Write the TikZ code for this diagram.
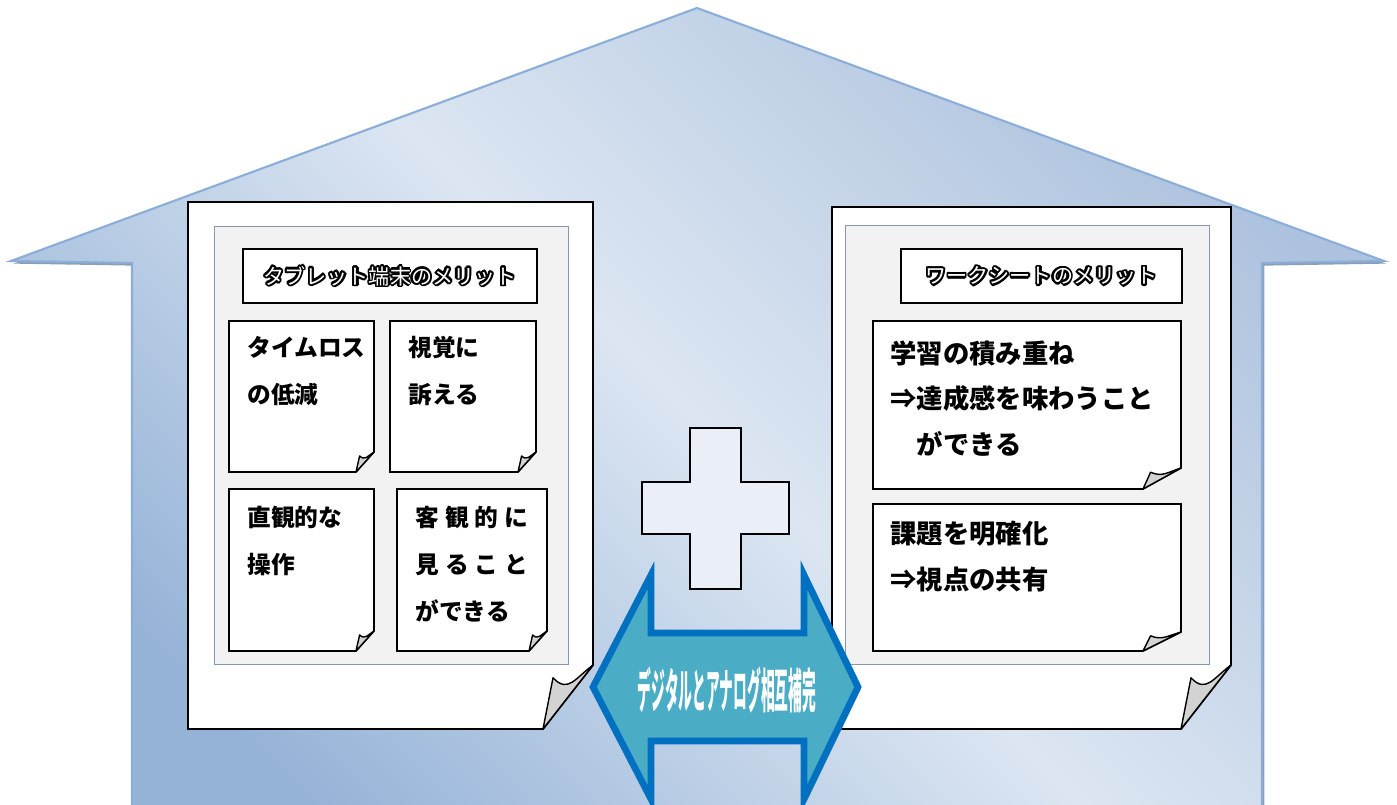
\documentclass[tikz,border=0pt]{standalone}
\usepackage{fontspec}
\setmainfont{Noto Sans CJK JP}
\usetikzlibrary{calc,shadows}

\definecolor{housedark}{HTML}{95B3D7}
\definecolor{houselight}{HTML}{DCE6F2}
\definecolor{housetop}{HTML}{ADC2DE}
\definecolor{houseline}{HTML}{8AAED9}
\definecolor{houseshade}{HTML}{7F93AC}
\definecolor{panelgray}{HTML}{F2F2F2}
\definecolor{panelline}{HTML}{8497B0}
\definecolor{curlgray}{HTML}{D3D3D3}
\definecolor{arrowfill}{HTML}{4BACC6}
\definecolor{arrowline}{HTML}{0070C0}
\definecolor{crossfill}{HTML}{E9EEF7}

% white letters with a black rim
\newcommand{\hollow}[1]{\leavevmode
  \rlap{\kern-0.75pt\textcolor{black}{#1}}%
  \rlap{\kern0.75pt\textcolor{black}{#1}}%
  \rlap{\raisebox{0.75pt}{\textcolor{black}{#1}}}%
  \rlap{\raisebox{-0.75pt}{\textcolor{black}{#1}}}%
  \rlap{\kern-0.53pt\raisebox{0.53pt}{\textcolor{black}{#1}}}%
  \rlap{\kern0.53pt\raisebox{0.53pt}{\textcolor{black}{#1}}}%
  \rlap{\kern-0.53pt\raisebox{-0.53pt}{\textcolor{black}{#1}}}%
  \rlap{\kern0.53pt\raisebox{-0.53pt}{\textcolor{black}{#1}}}%
  \textcolor{white}{\mdseries #1}}

% sheet with a curled lower right corner: top left, bottom right, curl width, curl height, style
\newcommand{\curlpage}[5]{%
  \coordinate (cA) at ($(#2)+(0,-#4)$);
  \coordinate (cB) at ($(#2)+(-#3,0)$);
  \coordinate (cI) at ($(cB)+(0.2*#3,-0.8*#4)$);
  \draw[#5] (#1) -| (cA) -- (cB) -| (#1) -- cycle;
  \draw[curl] (cA) -- (cB) -- (cI) .. controls ($(cI)+(0.3*#3,0.25*#4)$) and ($(cA)+(-0.35*#3,0.2*#4)$) .. (cA) -- cycle;
}

\tikzset{
  house/.style={draw=houseline, line width=1.2pt, line join=miter,
    top color=housetop, bottom color=housedark, middle color=houselight, shading angle=-45,
    drop shadow={shadow xshift=1.3pt, shadow yshift=-1.5pt, fill=houseshade, opacity=0.9}},
  bigpage/.style={draw=black, line width=1.1pt, fill=white},
  notepage/.style={draw=black, line width=0.9pt, fill=white},
  curl/.style={draw=black, line width=0.8pt, fill=curlgray, line join=round},
  panel/.style={draw=panelline, line width=0.5pt, fill=panelgray},
  titlebox/.style={draw=black, line width=1pt, fill=white, minimum height=1.08cm,
    font=\fontsize{12pt}{14pt}\selectfont\bfseries},
  lefttext/.style={anchor=north west, inner sep=0pt, align=left,
    font=\fontsize{13.5pt}{26.7pt}\selectfont\bfseries},
  righttext/.style={anchor=north west, inner sep=0pt, align=left,
    font=\fontsize{15pt}{25.9pt}\selectfont\bfseries},
  plus/.style={draw=black, line width=0.9pt, fill=crossfill},
  twinarrow/.style={draw=arrowline, line width=3.8pt, fill=arrowfill, line join=miter,
    drop shadow={shadow xshift=1.5pt, shadow yshift=-1.5pt, fill=gray, opacity=0.6}},
  arrowlabel/.style={text=white, inner sep=0pt, font=\fontsize{27pt}{27pt}\selectfont\bfseries}
}

\begin{document}
\begin{tikzpicture}[x=0.02cm,y=-0.02cm]
\useasboundingbox (0,0) rectangle (1397,805);
\clip (0,0) rectangle (1397,805);

% house
\draw[house] (697,8) -- (1384,261) -- (1262,263) -- (1262,830) -- (132,830) -- (132,263) -- (11,261) -- cycle;

% tablet side
\curlpage{188,202}{593,729}{50}{64}{bigpage}
\draw[panel] (214,226) rectangle (568,664);
\node[titlebox, minimum width=5.88cm] (tablet) at (390,276) {\hollow{タブレット端末のメリット}};
\curlpage{229,321}{374,472}{18}{20}{notepage}
\curlpage{390,321}{536,472}{18}{20}{notepage}
\curlpage{229,489}{374,651}{18}{20}{notepage}
\curlpage{397,489}{547,651}{18}{20}{notepage}
\node[lefttext] (timeloss) at (247,336) {タイムロス\\の低減};
\node[lefttext] (visual) at (408,336) {視覚に\\訴える};
\node[lefttext] (touch) at (247,506) {直観的な\\操作};
\node[lefttext] (objective) at (415,506) {\makebox[2.26cm][s]{客\hfill 観\hfill 的\hfill に}\\\makebox[2.26cm][s]{見\hfill る\hfill こ\hfill と}\\ができる};

% worksheet side
\curlpage{832,207}{1231,729}{50}{64}{bigpage}
\draw[panel] (845,225) rectangle (1209,664);
\node[titlebox, minimum width=5.62cm] (sheet) at (1041.5,276) {\hollow{ワークシートのメリット}};
\curlpage{873,321}{1181,489}{38}{21}{notepage}
\curlpage{873,504}{1181,651}{38}{19}{notepage}
\node[righttext] (pileup) at (890,340) {学習の積み重ね\\⇒達成感を味わうこと\\\hspace*{1em}ができる};
\node[righttext] (task) at (890,521) {課題を明確化\\⇒視点の共有};

% plus sign
\draw[plus] (690,428) -- (741,428) -- (741,482) -- (789,482) -- (789,534) -- (741,534)
  -- (741,589) -- (690,589) -- (690,534) -- (642,534) -- (642,482) -- (690,482) -- cycle;

% double arrow
\draw[twinarrow] (593,687) -- (651,575) -- (651,633) -- (804,633) -- (804,575) -- (858,687)
  -- (804,799) -- (804,741) -- (651,741) -- (651,799) -- cycle;
\node[arrowlabel] (mutual) at (727,690) {\scalebox{0.29}[1]{デジタルとアナログ相互補完}};
\end{tikzpicture}
\end{document}
